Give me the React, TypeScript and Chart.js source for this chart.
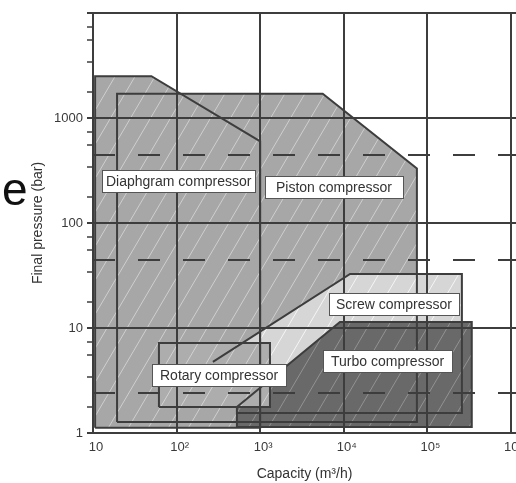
import React, { useEffect, useRef } from 'react';
import { Chart, registerables } from 'chart.js';

Chart.register(...registerables);

// ---- axis ticks ----
const xTicks = [10, 100, 1000, 10000, 100000, 1000000];
const xTickLabels = ['10', '10²', '10³', '10⁴', '10⁵', '10⁶'];
const yMajorTicks = [1, 10, 100, 1000, 10000];
const yMajorLabels = ['1', '10', '100', '1000', ''];
const yMinorTicks = [1.75, 3.4, 5.5, 7.4, 17.5, 34, 55, 74, 175, 340, 550, 740, 1750, 3400, 5500, 7400];
const xRange = [10, 1.15e6];
const yRange = [1, 10000];

// ---- regions: [capacity m3/h, final pressure bar] ----
const diaphragmPts = [[10.6, 1.12], [10.6, 2500], [50, 2500], [1000, 600], [1000, 1.12]];
const pistonPts = [[19.4, 1.27], [19.4, 1700], [5600, 1700], [75000, 330], [75000, 1.27]];
const screwPts = [[1000, 1.55], [272, 4.75], [11900, 32.7], [259000, 32.7], [259000, 1.55]];
const screwEdge = [[272, 4.75], [11900, 32.7], [259000, 32.7], [259000, 1.55], [527, 1.55]];
const turboPts = [[527, 1.14], [527, 1.77], [9000, 11.4], [340000, 11.4], [340000, 1.14]];
const rotaryPts = [[61.5, 1.77], [61.5, 7.2], [1310, 7.2], [1310, 1.77]];
const dashedLevels = [444, 44.4, 2.4];

// ---- region labels ----
const regionLabels = ['Diaphgram compressor', 'Piston compressor', 'Screw compressor', 'Turbo compressor', 'Rotary compressor'];
const labelX = [12.8, 1140, 6650, 5640, 50.8];
const labelY = [251, 218, 16.9, 4.8, 3.6];
const labelPad = [4, 11, 7, 8, 8];

const FONT = '"Liberation Sans", Arial, Helvetica, sans-serif';
const LINE = '#3d3d3d';

function hatch(base: string, stripe: string): CanvasPattern | string {
  const w = 20, h = 34;
  const c = document.createElement('canvas');
  c.width = w; c.height = h;
  const g = c.getContext('2d');
  if (!g) return base;
  g.fillStyle = base;
  g.fillRect(0, 0, w, h);
  g.strokeStyle = stripe;
  g.lineWidth = 1;
  for (const dx of [-w, 0, w]) {
    g.beginPath();
    g.moveTo(dx, h);
    g.lineTo(dx + w, 0);
    g.stroke();
  }
  return g.createPattern(c, 'repeat') || base;
}

const toXY = (pts: number[][]) => pts.map(([x, y]) => ({ x, y }));
const closed = (pts: number[][]) => [...pts, pts[0]];

const labelPlugin = {
  id: 'regionLabels',
  afterDraw(chart: any) {
    const { ctx, scales } = chart;
    const xs = scales.x, ys = scales.y;
    ctx.save();
    ctx.font = `14px ${FONT}`;
    regionLabels.forEach((t, i) => {
      const px = Math.round(xs.getPixelForValue(labelX[i]));
      const py = Math.round(ys.getPixelForValue(labelY[i]));
      const w = Math.round(ctx.measureText(t).width + 2 * labelPad[i]);
      const h = 22;
      ctx.fillStyle = '#ffffff';
      ctx.fillRect(px, py - h / 2, w, h);
      ctx.strokeStyle = '#555555';
      ctx.lineWidth = 1;
      ctx.strokeRect(px + 0.5, py - h / 2 + 0.5, w, h);
      ctx.fillStyle = '#333333';
      ctx.textBaseline = 'middle';
      ctx.textAlign = 'left';
      ctx.fillText(t, px + labelPad[i], py + 1);
    });
    ctx.font = `46px ${FONT}`;
    ctx.fillStyle = '#111111';
    ctx.textBaseline = 'alphabetic';
    ctx.fillText('e', 2, 205);
    ctx.restore();
  },
};

export default function App() {
  const ref = useRef<HTMLCanvasElement | null>(null);

  useEffect(() => {
    if (!ref.current) return;
    const medium = hatch('#a7a7a7', 'rgba(255,255,255,0.45)');
    const light = hatch('#d6d6d6', 'rgba(255,255,255,0.75)');
    const dark = hatch('#696969', 'rgba(255,255,255,0.28)');
    const rotaryFill = hatch('#adadad', 'rgba(255,255,255,0.45)');

    const base = { showLine: true, pointRadius: 0, pointHoverRadius: 0, tension: 0 };
    const fillSet = (pts: number[][], bg: any, order: number) => ({
      ...base, data: toXY(pts), fill: 'shape', backgroundColor: bg,
      borderColor: 'rgba(0,0,0,0)', borderWidth: 0, order,
    });
    const edgeSet = (pts: number[][], order: number) => ({
      ...base, data: toXY(pts), fill: false, borderColor: LINE, borderWidth: 2, order,
    });

    const datasets: any[] = [
      fillSet(diaphragmPts, medium, 30),
      fillSet(pistonPts, medium, 29),
      fillSet(screwPts, light, 28),
      fillSet(turboPts, dark, 27),
      fillSet(rotaryPts, rotaryFill, 26),
      edgeSet(closed(diaphragmPts), 20),
      edgeSet(closed(pistonPts), 19),
      edgeSet(screwEdge, 18),
      edgeSet(closed(turboPts), 17),
      edgeSet(closed(rotaryPts), 16),
      ...dashedLevels.map((v, i) => ({
        ...base,
        data: [{ x: xRange[0], y: v }, { x: xRange[1], y: v }],
        fill: false, borderColor: LINE, borderWidth: 2, borderDash: [22, 23], order: 5 - i,
      })),
    ];

    Chart.defaults.font.family = FONT;

    const chart = new Chart(ref.current, {
      type: 'scatter',
      data: { datasets },
      plugins: [labelPlugin],
      options: {
        animation: false,
        responsive: false,
        maintainAspectRatio: false,
        devicePixelRatio: 1,
        events: [],
        layout: { padding: { left: 0, right: 0, top: 13, bottom: 0 } },
        plugins: { legend: { display: false }, tooltip: { enabled: false } },
        scales: {
          x: {
            type: 'logarithmic',
            position: 'bottom',
            min: xRange[0],
            max: xRange[1],
            grid: { color: LINE, lineWidth: 2, drawTicks: false, z: 1 },
            border: { display: true, color: LINE, width: 2, z: 1 },
            ticks: {
              autoSkip: false,
              maxRotation: 0,
              padding: 7,
              labelOffset: 3,
              z: 1,
              color: '#3a3a3a',
              font: { size: 13, family: FONT },
              callback: (v: any) => {
                const i = xTicks.indexOf(Number(v));
                return i >= 0 ? xTickLabels[i] : '';
              },
            },
            title: {
              display: true,
              text: 'Capacity (m³/h)',
              color: '#333333',
              font: { size: 14, family: FONT },
              padding: { top: 0, bottom: 0 },
            },
            afterBuildTicks: (s: any) => { s.ticks = xTicks.map((v) => ({ value: v })); },
            afterFit: (s: any) => { s.height = 50; s.paddingLeft = 0; s.paddingRight = 0; },
          },
          y: {
            type: 'logarithmic',
            position: 'left',
            min: yRange[0],
            max: yRange[1],
            grid: {
              color: (c: any) => (yMajorTicks.includes(c.tick?.value) ? LINE : 'rgba(0,0,0,0)'),
              lineWidth: 2,
              tickColor: LINE,
              tickWidth: (c: any) => (yMajorTicks.includes(c.tick?.value) ? 2 : 1.5),
              tickLength: 6,
              drawTicks: true,
              z: 1,
            },
            border: { display: true, color: LINE, width: 2, z: 1 },
            ticks: {
              autoSkip: false,
              padding: 4,
              z: 1,
              color: '#3a3a3a',
              font: { size: 13, family: FONT },
              callback: (v: any) => {
                const i = yMajorTicks.indexOf(Number(v));
                return i >= 0 ? yMajorLabels[i] : '';
              },
            },
            title: {
              display: true,
              text: 'Final pressure (bar)',
              color: '#333333',
              font: { size: 14, family: FONT },
              padding: { top: 30, bottom: 0 },
            },
            afterBuildTicks: (s: any) => {
              s.ticks = [...yMajorTicks, ...yMinorTicks].sort((a, b) => a - b).map((v) => ({ value: v }));
            },
            afterFit: (s: any) => { s.width = 93; s.paddingTop = 0; s.paddingBottom = 0; },
          },
        },
      } as any,
    });
    return () => chart.destroy();
  }, []);

  return (
    <div style={{ position: 'fixed', left: 0, top: 0, width: 516, height: 483, background: '#fff' }}>
      <canvas ref={ref} width={516} height={483} style={{ display: 'block', width: 516, height: 483 }} />
    </div>
  );
}
